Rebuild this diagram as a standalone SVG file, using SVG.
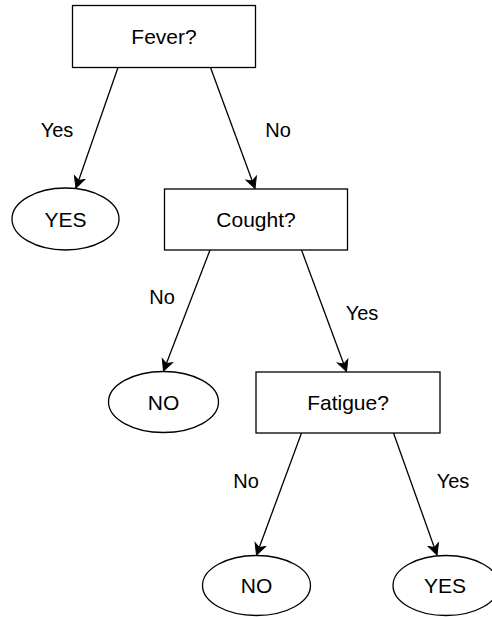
<svg xmlns="http://www.w3.org/2000/svg" width="492" height="617" viewBox="0 0 492 617">
  <style>
    .box { fill: #ffffff; stroke: #000000; stroke-width: 1.3; }
    .leaf { fill: #ffffff; stroke: #000000; stroke-width: 1.3; }
    .edge { fill: none; stroke: #000000; stroke-width: 1.3; marker-end: url(#arrow); }
    text { font-family: "Liberation Sans", Arial, Helvetica, sans-serif; fill: #000000; text-anchor: middle; }
    .node-text { font-size: 21px; }
    .edge-label { font-size: 20px; }
  </style>
  <defs>
    <marker id="arrow" markerUnits="userSpaceOnUse" markerWidth="14" markerHeight="14" viewBox="0 0 14 14" refX="12" refY="7" orient="auto">
      <path d="M1,1.5 L12,7 L1,12.5 L4,7 Z" fill="#000000" stroke="#000000" stroke-width="1"/>
    </marker>
  </defs>

  <rect width="492" height="617" fill="#ffffff"/>

  <!-- connectors -->
  <g id="edges">
    <line class="edge" x1="118" y1="67.5" x2="76" y2="188"/>
    <line class="edge" x1="210.5" y1="67.5" x2="255" y2="188.5"/>
    <line class="edge" x1="210" y1="250" x2="163.5" y2="371"/>
    <line class="edge" x1="301.5" y1="250" x2="346.5" y2="371.5"/>
    <line class="edge" x1="301.5" y1="433" x2="256.5" y2="555"/>
    <line class="edge" x1="393.5" y1="433" x2="437" y2="555"/>
    <text class="edge-label" x="57" y="137">Yes</text>
    <text class="edge-label" x="278" y="137">No</text>
    <text class="edge-label" x="162" y="304">No</text>
    <text class="edge-label" x="362" y="320">Yes</text>
    <text class="edge-label" x="246" y="488">No</text>
    <text class="edge-label" x="453" y="488">Yes</text>
  </g>

  <!-- decision nodes -->
  <g id="fever">
    <rect class="box" x="72.5" y="5.5" width="183" height="62"/>
    <text class="node-text" x="164" y="44">Fever?</text>
  </g>
  <g id="cough">
    <rect class="box" x="164.5" y="189" width="183" height="61"/>
    <text class="node-text" x="256" y="227">Cought?</text>
  </g>
  <g id="fatigue">
    <rect class="box" x="256" y="372" width="184" height="61"/>
    <text class="node-text" x="348" y="410">Fatigue?</text>
  </g>

  <!-- outcome nodes -->
  <g id="yes-fever">
    <ellipse class="leaf" cx="65.5" cy="219" rx="53.5" ry="31"/>
    <text class="node-text" x="65.5" y="226.5">YES</text>
  </g>
  <g id="no-cough">
    <ellipse class="leaf" cx="163.5" cy="402" rx="55" ry="30.5"/>
    <text class="node-text" x="163.5" y="409.5">NO</text>
  </g>
  <g id="no-fatigue">
    <ellipse class="leaf" cx="256.5" cy="585.5" rx="54" ry="30"/>
    <text class="node-text" x="256.5" y="593">NO</text>
  </g>
  <g id="yes-fatigue">
    <ellipse class="leaf" cx="446" cy="585.5" rx="53" ry="30"/>
    <text class="node-text" x="445" y="593">YES</text>
  </g>
</svg>
